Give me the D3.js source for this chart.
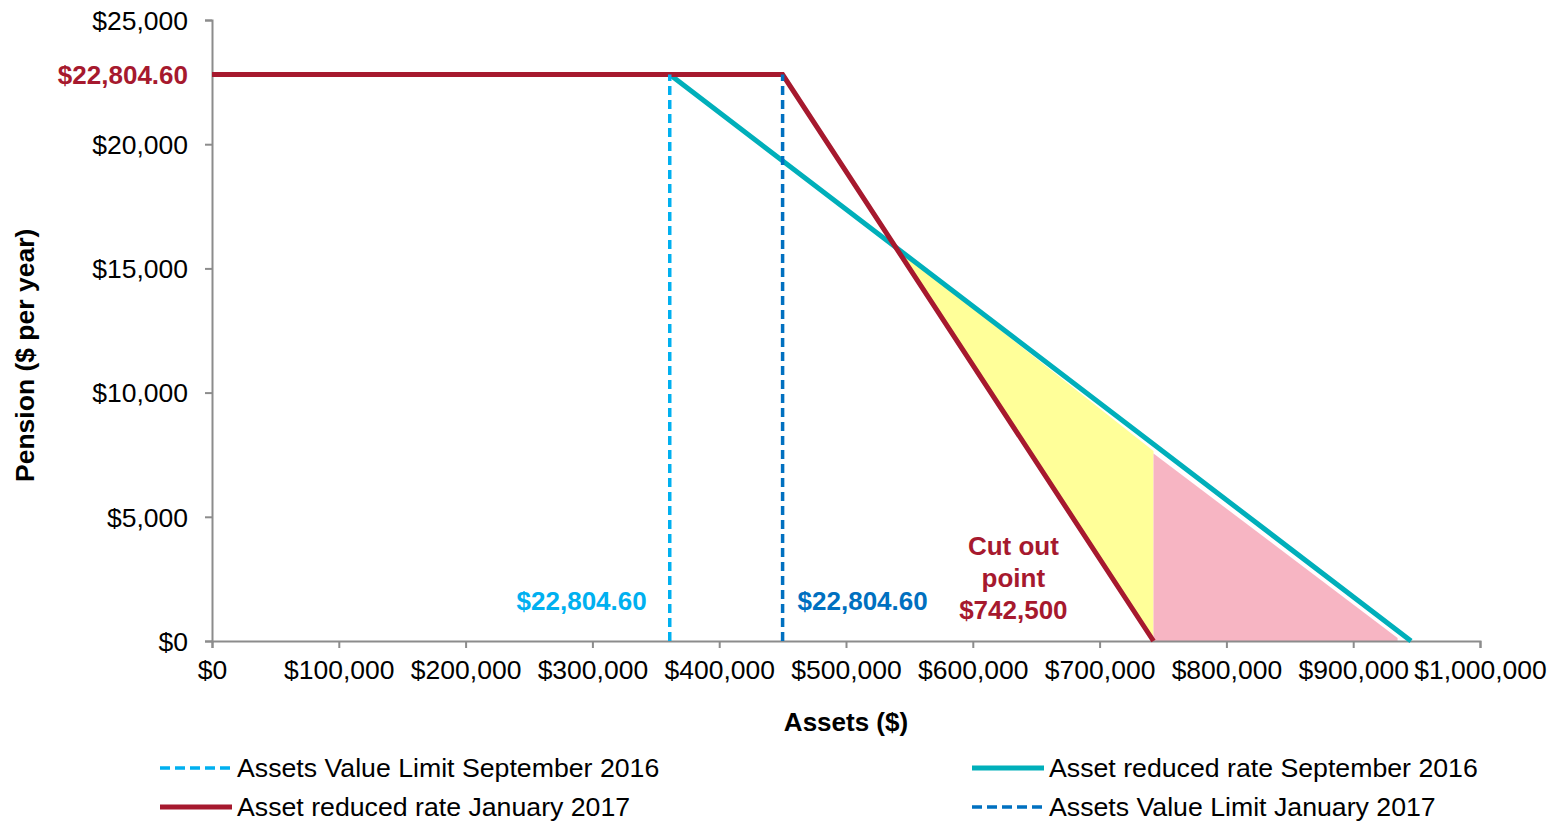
<!DOCTYPE html>
<html>
<head>
<meta charset="utf-8">
<style>
  body { margin: 0; background: #fff; }
  text { font-family: "Liberation Sans", Arial, sans-serif; }
</style>
</head>
<body>
<div id="chart"></div>
<script src="https://cdn.jsdelivr.net/npm/d3@7"></script>
<script>
var W = 1558, H = 822;
var margin = { top: 20, right: 78, bottom: 181, left: 212 };

// data
var maxPension = 22804.60;
var xTicks = [0, 100000, 200000, 300000, 400000, 500000, 600000, 700000, 800000, 900000, 1000000];
var yTicks = [0, 5000, 10000, 15000, 20000, 25000];

var redX = [0, 450000, 742500];          // Asset reduced rate January 2017
var redY = [maxPension, maxPension, 0];
var tealX = [0, 361000, 945600];         // Asset reduced rate September 2016
var tealY = [maxPension, maxPension, 0];
var limitSep = 361000;                   // Assets Value Limit September 2016
var limitJan = 450000;                   // Assets Value Limit January 2017
var cutOutLabelX = 632000;

var yellowX = [539500, 742500, 742500];
var yellowY = [15830, 7650, 0];
var pinkX = [742500, 742500, 935000, 935000];
var pinkY = [0, 7550, 120, 0];

var RED = "#A6192E", TEAL = "#00AFBA", LBLUE = "#00B0F0", DBLUE = "#0070C0";
var FS = 26;

var svg = d3.select("#chart").append("svg").attr("width", W).attr("height", H);
var iw = W - margin.left - margin.right, ih = H - margin.top - margin.bottom;
var g = svg.append("g").attr("transform", "translate(" + margin.left + "," + margin.top + ")");

var x = d3.scaleLinear().domain([0, 1000000]).range([0, iw]);
var y = d3.scaleLinear().domain([0, 25000]).range([ih, 0]);

function pts(xs, ys) { return xs.map(function (v, i) { return [v, ys[i]]; }); }
var line = d3.line().x(function (d) { return x(d[0]); }).y(function (d) { return y(d[1]); });

// shaded areas
g.append("path").attr("d", line(pts(yellowX, yellowY)) + "Z").attr("fill", "#FFFF99");
g.append("path").attr("d", line(pts(pinkX, pinkY)) + "Z").attr("fill", "#F7B5C3");

// axes
var fmt = function (d) { return "$" + d3.format(",")(d); };
var xAxis = g.append("g").attr("transform", "translate(0," + ih + ")")
  .call(d3.axisBottom(x).tickValues(xTicks).tickFormat(fmt).tickSizeOuter(0).tickSize(7).tickPadding(12));
var yAxis = g.append("g")
  .call(d3.axisLeft(y).tickValues(yTicks).tickFormat(fmt).tickSizeOuter(0).tickSize(7).tickPadding(17));
[xAxis, yAxis].forEach(function (a) {
  a.selectAll("path, line").attr("stroke", "#8c8c8c").attr("stroke-width", 2);
  a.selectAll("text").attr("font-size", 26.5).attr("fill", "#000").attr("font-family", "Liberation Sans, Arial, sans-serif");
});
yAxis.selectAll("text").attr("dy", "0.35em");

// lines
g.append("path").attr("d", line(pts(tealX, tealY))).attr("fill", "none")
  .attr("stroke", TEAL).attr("stroke-width", 5);
g.append("path").attr("d", line(pts(redX, redY))).attr("fill", "none")
  .attr("stroke", RED).attr("stroke-width", 5);

function vline(v, col) {
  g.append("line").attr("x1", x(v)).attr("x2", x(v)).attr("y1", y(0)).attr("y2", y(maxPension))
    .attr("stroke", col).attr("stroke-width", 3.5).attr("stroke-dasharray", "9,5");
}
vline(limitSep, LBLUE);
vline(limitJan, DBLUE);

// annotations
function bold(xp, yp, anchor, col, t) {
  return g.append("text").attr("x", xp).attr("y", yp).attr("dy", "0.35em")
    .attr("text-anchor", anchor).attr("font-size", FS).attr("font-weight", "bold").attr("fill", col).text(t);
}
bold(x(limitSep) - 23, y(0) - 40, "end", LBLUE, "$22,804.60");
bold(x(limitJan) + 15, y(0) - 40, "start", DBLUE, "$22,804.60");
bold(-24, y(maxPension), "end", RED, "$22,804.60");
var cut = g.append("text").attr("text-anchor", "middle").attr("font-size", FS)
  .attr("font-weight", "bold").attr("fill", RED);
["Cut out", "point", "$742,500"].forEach(function (t, i) {
  cut.append("tspan").attr("x", x(cutOutLabelX)).attr("y", y(0) - 95 + i * 32).attr("dy", "0.35em").text(t);
});

// axis titles
svg.append("text").attr("x", margin.left + x(500000)).attr("y", 722).attr("dy", "0.35em")
  .attr("text-anchor", "middle").attr("font-size", FS).attr("font-weight", "bold").text("Assets ($)");
svg.append("text").attr("transform", "translate(25," + (margin.top + y(11500)) + ") rotate(-90)")
  .attr("dy", "0.35em").attr("text-anchor", "middle").attr("font-size", 26.5).attr("font-weight", "bold")
  .text("Pension ($ per year)");

// legend
var legend = [
  { label: "Assets Value Limit September 2016", color: LBLUE, dash: true, x: 160, y: 768 },
  { label: "Asset reduced rate September 2016", color: TEAL, dash: false, x: 972, y: 768 },
  { label: "Asset reduced rate January 2017", color: RED, dash: false, x: 160, y: 807 },
  { label: "Assets Value Limit January 2017", color: DBLUE, dash: true, x: 972, y: 807 }
];
var lg = svg.selectAll(".lg").data(legend).enter().append("g")
  .attr("transform", function (d) { return "translate(" + d.x + "," + d.y + ")"; });
lg.append("line").attr("x1", 0).attr("x2", 72).attr("y1", 0).attr("y2", 0)
  .attr("stroke", function (d) { return d.color; })
  .attr("stroke-width", function (d) { return d.dash ? 3.5 : 5; })
  .attr("stroke-dasharray", function (d) { return d.dash ? "10,5" : null; });
lg.append("text").attr("x", 77).attr("dy", "0.35em").attr("font-size", 26.7).text(function (d) { return d.label; });
</script>
</body>
</html>
